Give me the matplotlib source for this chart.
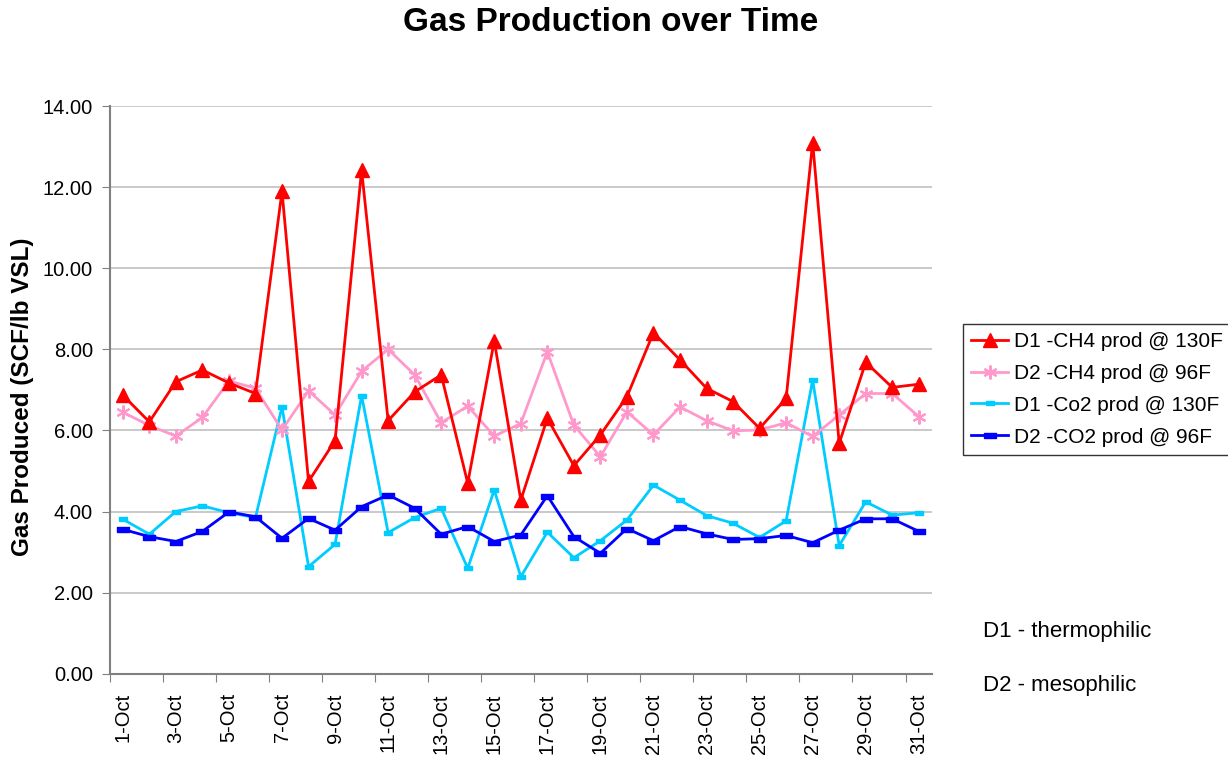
import numpy as np
import matplotlib
matplotlib.use('Agg')
import matplotlib.pyplot as plt

plt.rcParams['font.family'] = ['Liberation Sans', 'DejaVu Sans']

# data, one value per day of October
days = np.arange(1, 32)
d1_ch4 = [6.87, 6.21, 7.20, 7.49, 7.17, 6.91, 11.90, 4.74, 5.75, 12.42,
          6.24, 6.95, 7.37, 4.70, 8.21, 4.28, 6.30, 5.13, 5.89, 6.83,
          8.41, 7.74, 7.04, 6.71, 6.05, 6.79, 13.10, 5.68, 7.68, 7.06, 7.14]
d2_ch4 = [6.45, 6.12, 5.86, 6.32, 7.22, 7.04, 6.01, 6.98, 6.38, 7.46,
          8.00, 7.37, 6.19, 6.60, 5.86, 6.17, 7.94, 6.13, 5.35, 6.46,
          5.89, 6.58, 6.24, 5.99, 6.01, 6.19, 5.85, 6.38, 6.91, 6.91, 6.34]
d1_co2 = [3.81, 3.44, 4.00, 4.14, 3.97, 3.85, 6.58, 2.64, 3.19, 6.86,
          3.48, 3.85, 4.08, 2.60, 4.53, 2.39, 3.49, 2.86, 3.28, 3.79,
          4.65, 4.28, 3.90, 3.71, 3.36, 3.77, 7.24, 3.16, 4.24, 3.91, 3.97]
d2_co2 = [3.56, 3.38, 3.26, 3.51, 3.99, 3.87, 3.34, 3.83, 3.54, 4.12,
          4.41, 4.08, 3.44, 3.63, 3.26, 3.42, 4.39, 3.38, 2.97, 3.58,
          3.28, 3.63, 3.45, 3.31, 3.33, 3.41, 3.23, 3.54, 3.82, 3.82, 3.51]
series_names = ['D1 -CH4 prod @ 130F', 'D2 -CH4 prod @ 96F',
                'D1 -Co2 prod @ 130F', 'D2 -CO2 prod @ 96F']
date_labels = ['%d-Oct' % d for d in days[::2]]

# flat rectangle marker like Excel's
rect = [(-1, -0.45), (1, -0.45), (1, 0.45), (-1, 0.45), (-1, -0.45)]

fig = plt.figure(figsize=(12.28, 7.59), dpi=100)
ax = fig.add_axes([0.0892, 0.1124, 0.6698, 0.7479])

ax.plot(days, d1_ch4, color='#FF0000', lw=2, marker='^', ms=10,
        label=series_names[0], zorder=5)
ax.plot(days, d2_ch4, color='#FF99CC', lw=2, marker=(6, 2, 0), ms=10, mew=1.5,
        label=series_names[1], zorder=4)
ax.plot(days, d1_co2, color='#00CCFF', lw=2, marker=rect, ms=6,
        label=series_names[2], zorder=3)
ax.plot(days, d2_co2, color='#0000FF', lw=2, marker=rect, ms=8,
        label=series_names[3], zorder=4)

ax.set_xlim(0.5, 31.5)
ax.set_ylim(0, 14)
ax.set_yticks(np.arange(0, 15, 2))
ax.set_yticklabels(['%.2f' % v for v in np.arange(0, 15, 2)], fontsize=14.5)
ax.yaxis.grid(True, color='#C0C0C0', lw=1.2)
ax.set_axisbelow(True)

ax.set_xticks(np.arange(0.5, 31, 2))
ax.set_xticklabels([])
ax.set_xticks(days[::2], minor=True)
ax.set_xticklabels(date_labels, minor=True, rotation=90, fontsize=14.5)
ax.tick_params(axis='x', which='major', length=6, color='#808080', direction='out')
ax.tick_params(axis='x', which='minor', length=0, pad=14)
ax.tick_params(axis='y', length=6, color='#808080', direction='out', pad=6)

for s in ['top', 'right']:
    ax.spines[s].set_visible(False)
for s in ['left', 'bottom']:
    ax.spines[s].set_color('#808080')
    ax.spines[s].set_linewidth(1.5)

ax.set_ylabel('Gas Produced (SCF/lb VSL)', fontsize=17.5, fontweight='bold')
ax.yaxis.set_label_coords(-0.0915, 0.487)
fig.text(0.4976, 0.971, 'Gas Production over Time', ha='center', va='center',
         fontsize=24, fontweight='bold')

leg = ax.legend(loc='upper left', bbox_to_anchor=(1.0377, 0.616), fontsize=15,
                frameon=True, fancybox=False, edgecolor='black',
                handlelength=1.8, borderpad=0.38, labelspacing=0.62,
                handletextpad=0.25, borderaxespad=0)
leg.get_frame().set_linewidth(1)

fig.text(0.8005, 1 - 632 / 759, 'D1 - thermophilic', fontsize=16, va='center')
fig.text(0.8005, 1 - 685 / 759, 'D2 - mesophilic', fontsize=16, va='center')

fig.savefig('out.png', dpi=100)
